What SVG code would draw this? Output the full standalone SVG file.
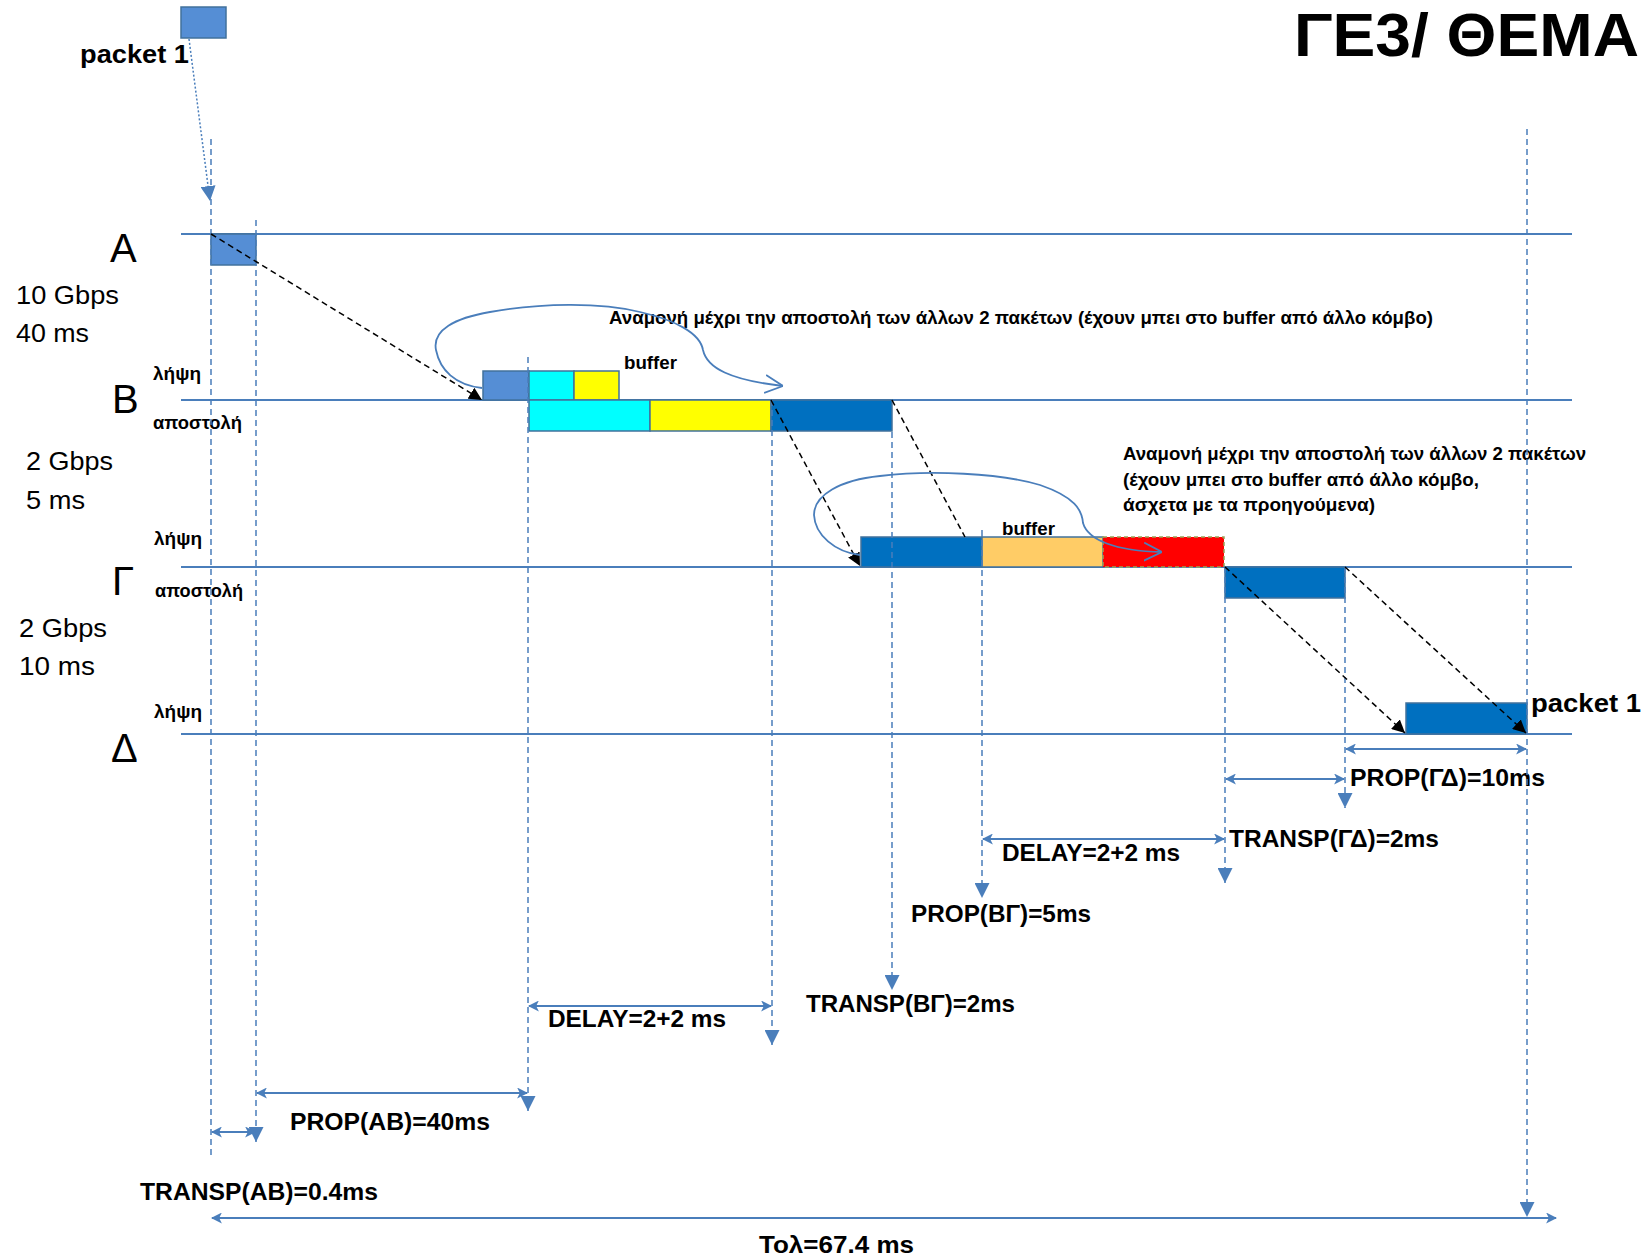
<svg xmlns="http://www.w3.org/2000/svg" width="1647" height="1259" viewBox="0 0 1647 1259">
<defs>
<style>
text{font-family:"Liberation Sans",Arial,sans-serif;fill:#000}
.b{font-weight:bold}
.lbl{font-weight:bold;font-size:24px}
.sm{font-weight:bold;font-size:19px}
.node{font-size:40px}
.spd{font-size:26px}
.hl{stroke:#4A7EBB;stroke-width:2;fill:none}
.vd{stroke:#4A7EBB;stroke-width:1.5;stroke-dasharray:6,4;fill:none}
.da{stroke:#4A7EBB;stroke-width:2;fill:none;marker-start:url(#ha);marker-end:url(#ha)}
.bk{stroke:#000;stroke-width:1.5;stroke-dasharray:6,4;fill:none}
.cv{stroke:#4A7EBB;stroke-width:1.8;fill:none}
.pk{stroke:#41719C;stroke-width:1.5}
</style>
<marker id="tri" viewBox="0 0 10 10" refX="10" refY="5" markerUnits="userSpaceOnUse" markerWidth="15" markerHeight="15" orient="auto"><path d="M0,0 L10,5 L0,10 z" fill="#4A7EBB"/></marker>
<marker id="ha" viewBox="0 0 10 10" refX="9" refY="5" markerUnits="userSpaceOnUse" markerWidth="11" markerHeight="11" orient="auto-start-reverse"><path d="M0,0 L10,5 L0,10 L2.5,5 z" fill="#4A7EBB"/></marker>
<marker id="ka" viewBox="0 0 10 10" refX="10" refY="5" markerUnits="userSpaceOnUse" markerWidth="13" markerHeight="13" orient="auto"><path d="M0,0 L10,5 L0,10 z" fill="#000"/></marker>
<marker id="chev" viewBox="0 0 10 10" refX="10" refY="5" markerUnits="userSpaceOnUse" markerWidth="18" markerHeight="20" orient="auto"><path d="M0,0 L10,5 L0,10" fill="none" stroke="#4A7EBB" stroke-width="1"/></marker>
</defs>
<rect width="1647" height="1259" fill="#fff"/>

<g id="title"><text class="b" x="1294" y="56" font-size="62" textLength="345" lengthAdjust="spacingAndGlyphs">ΓΕ3/ ΘΕΜΑ</text></g>

<g id="timelines">
<line class="hl" x1="181" y1="234" x2="1572" y2="234"/>
<line class="hl" x1="181" y1="400" x2="1572" y2="400"/>
<line class="hl" x1="181" y1="567" x2="1572" y2="567"/>
<line class="hl" x1="181" y1="734" x2="1572" y2="734"/>
</g>

<g id="labels-nodes">
<text class="node" x="110" y="262">Α</text>
<text class="node" x="112" y="413">Β</text>
<text class="node" x="112" y="595">Γ</text>
<text class="node" x="111" y="762">Δ</text>
<text class="spd" x="16" y="304" textLength="103" lengthAdjust="spacingAndGlyphs">10 Gbps</text>
<text class="spd" x="16" y="342" textLength="73" lengthAdjust="spacingAndGlyphs">40 ms</text>
<text class="spd" x="26" y="470" textLength="87" lengthAdjust="spacingAndGlyphs">2 Gbps</text>
<text class="spd" x="26" y="509" textLength="59" lengthAdjust="spacingAndGlyphs">5 ms</text>
<text class="spd" x="19" y="637" textLength="88" lengthAdjust="spacingAndGlyphs">2 Gbps</text>
<text class="spd" x="19" y="675" textLength="76" lengthAdjust="spacingAndGlyphs">10 ms</text>
<text class="sm" x="153" y="380" textLength="48" lengthAdjust="spacingAndGlyphs">λήψη</text>
<text class="sm" x="153" y="429" textLength="89" lengthAdjust="spacingAndGlyphs">αποστολή</text>
<text class="sm" x="154" y="545" textLength="48" lengthAdjust="spacingAndGlyphs">λήψη</text>
<text class="sm" x="155" y="597" textLength="88" lengthAdjust="spacingAndGlyphs">αποστολή</text>
<text class="sm" x="154" y="718" textLength="48" lengthAdjust="spacingAndGlyphs">λήψη</text>
</g>

<g id="packet-top"><rect class="pk" x="181" y="7" width="45" height="31" fill="#558ED5"/>
<text class="b" x="80" y="63" font-size="26" textLength="109" lengthAdjust="spacingAndGlyphs">packet 1</text></g>

<g id="packet-A"><rect class="pk" x="211" y="234" width="45" height="31" fill="#558ED5"/></g>

<g id="buffer-B">
<rect class="pk" x="483" y="371" width="46" height="29" fill="#558ED5"/>
<rect class="pk" x="529" y="371" width="45" height="29" fill="#00FFFF"/>
<rect class="pk" x="574" y="371" width="45" height="29" fill="#FFFF00"/>
<text class="sm" x="624" y="369" textLength="53" lengthAdjust="spacingAndGlyphs">buffer</text>
</g>
<g id="send-B">
<rect class="pk" x="529" y="400" width="121" height="31" fill="#00FFFF"/>
<rect class="pk" x="650" y="400" width="121" height="31" fill="#FFFF00"/>
<rect class="pk" x="771" y="400" width="121" height="31" fill="#0070C0"/>
</g>

<g id="buffer-G">
<rect class="pk" x="861" y="537" width="121" height="30" fill="#0070C0"/>
<rect class="pk" x="982" y="537" width="121" height="30" fill="#FFCC66"/>
<rect x="1103" y="537" width="121" height="30" fill="#FF0000" stroke="#9BA35A" stroke-width="1.5" stroke-dasharray="4,3"/>
<text class="sm" x="1002" y="535" textLength="53" lengthAdjust="spacingAndGlyphs">buffer</text>
</g>
<g id="send-G"><rect class="pk" x="1225" y="567" width="120" height="31" fill="#0070C0"/></g>
<g id="recv-D"><rect class="pk" x="1406" y="703" width="121" height="31" fill="#0070C0"/>
<text class="b" x="1531" y="712" font-size="26" textLength="110" lengthAdjust="spacingAndGlyphs">packet 1</text></g>

<g id="wait-B">
<text class="sm" x="609" y="324" textLength="824" lengthAdjust="spacingAndGlyphs">Αναμονή μέχρι την αποστολή των άλλων 2 πακέτων (έχουν μπει στο buffer από άλλο κόμβο)</text>
</g>
<g id="wait-G">
<text class="sm" x="1123" y="460" textLength="463" lengthAdjust="spacingAndGlyphs">Αναμονή μέχρι την αποστολή των άλλων 2 πακέτων</text>
<text class="sm" x="1123" y="486" textLength="356" lengthAdjust="spacingAndGlyphs">(έχουν μπει στο buffer από άλλο κόμβο,</text>
<text class="sm" x="1123" y="511" textLength="252" lengthAdjust="spacingAndGlyphs">άσχετα με τα προηγούμενα)</text>
</g>

<g id="measure-labels">
<text class="lbl" x="140" y="1200" textLength="238" lengthAdjust="spacingAndGlyphs">TRANSP(AB)=0.4ms</text>
<text class="lbl" x="290" y="1130" textLength="200" lengthAdjust="spacingAndGlyphs">PROP(AB)=40ms</text>
<text class="lbl" x="548" y="1027" textLength="178" lengthAdjust="spacingAndGlyphs">DELAY=2+2 ms</text>
<text class="lbl" x="806" y="1012" textLength="209" lengthAdjust="spacingAndGlyphs">TRANSP(ΒΓ)=2ms</text>
<text class="lbl" x="911" y="922" textLength="180" lengthAdjust="spacingAndGlyphs">PROP(ΒΓ)=5ms</text>
<text class="lbl" x="1002" y="861" textLength="178" lengthAdjust="spacingAndGlyphs">DELAY=2+2 ms</text>
<text class="lbl" x="1229" y="847" textLength="210" lengthAdjust="spacingAndGlyphs">TRANSP(ΓΔ)=2ms</text>
<text class="lbl" x="1350" y="786" textLength="195" lengthAdjust="spacingAndGlyphs">PROP(ΓΔ)=10ms</text>
<text class="lbl" x="759" y="1253" textLength="155" lengthAdjust="spacingAndGlyphs">Τολ=67.4 ms</text>
</g>

<g id="connectors">
<line class="vd" x1="211" y1="139" x2="211" y2="1157"/>
<line class="vd" x1="256" y1="220" x2="256" y2="1142" marker-end="url(#tri)"/>
<line class="vd" x1="528" y1="357" x2="528" y2="1111" marker-end="url(#tri)"/>
<line class="vd" x1="772" y1="400" x2="772" y2="1045" marker-end="url(#tri)"/>
<line class="vd" x1="892" y1="432" x2="892" y2="990" marker-end="url(#tri)"/>
<line class="vd" x1="982" y1="530" x2="982" y2="898" marker-end="url(#tri)"/>
<line class="vd" x1="1225" y1="567" x2="1225" y2="883" marker-end="url(#tri)"/>
<line class="vd" x1="1345" y1="567" x2="1345" y2="808" marker-end="url(#tri)"/>
<line class="vd" x1="1527" y1="129" x2="1527" y2="1217" stroke-width="2" marker-end="url(#tri)"/>
<line x1="189" y1="39" x2="210" y2="201" stroke="#4A7EBB" stroke-width="1.5" stroke-dasharray="2,2" marker-end="url(#tri)"/>
<line class="bk" x1="211" y1="234" x2="482" y2="400" marker-end="url(#ka)"/>
<line class="bk" x1="771" y1="400" x2="860" y2="566" marker-end="url(#ka)"/>
<line class="bk" x1="892" y1="400" x2="965" y2="537"/>
<line class="bk" x1="1225" y1="567" x2="1405" y2="733" marker-end="url(#ka)"/>
<line class="bk" x1="1345" y1="567" x2="1526" y2="733" marker-end="url(#ka)"/>
<path class="cv" d="M482,388 C455,385 440,370 436,350 C432,330 455,318 490,312 C540,303 600,302 640,312 C675,320 700,333 703,350 C707,368 730,380 783,386" marker-end="url(#chev)"/>
<path class="cv" d="M860,555 C835,552 815,535 814,515 C814,495 840,480 880,476 C930,470 1000,473 1040,485 C1075,497 1082,510 1083,523 C1088,540 1115,551 1162,552" marker-end="url(#chev)"/>
<line class="da" x1="212" y1="1132" x2="255" y2="1132"/>
<line class="da" x1="257" y1="1093" x2="527" y2="1093"/>
<line class="da" x1="529" y1="1006" x2="771" y2="1006"/>
<line class="da" x1="983" y1="839" x2="1224" y2="839"/>
<line class="da" x1="1226" y1="779" x2="1344" y2="779"/>
<line class="da" x1="1346" y1="749" x2="1526" y2="749"/>
<line class="da" x1="212" y1="1218" x2="1556" y2="1218"/>
</g>
</svg>
